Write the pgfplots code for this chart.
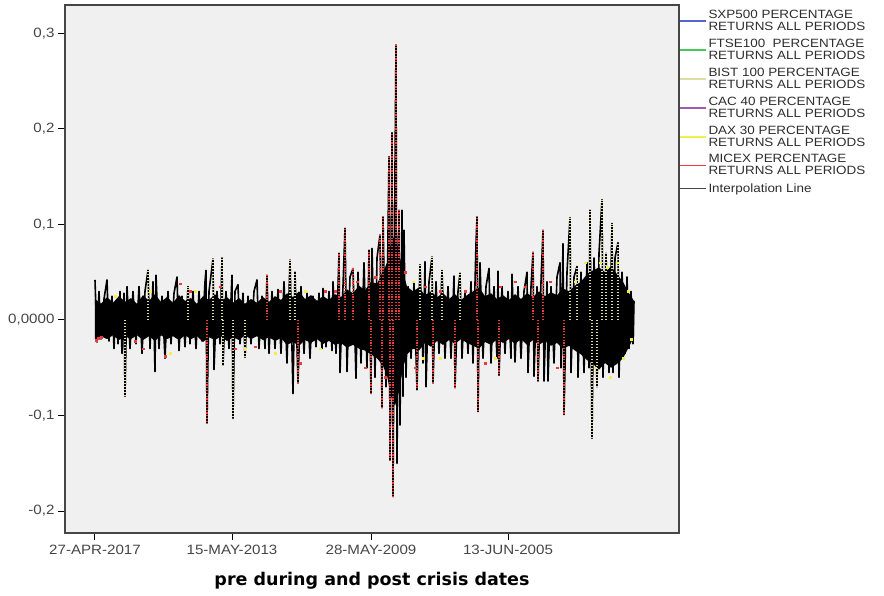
\documentclass[border=0pt]{standalone}
\usepackage{fontspec}
\setmainfont{Liberation Sans}[FakeStretch=1.12]
\newfontfamily\labelfont{DejaVu Sans}
\usepackage{pgfplots}
\usepackage{pgfplotstable}
\pgfplotsset{compat=1.18}
\definecolor{plotbg}{RGB}{240,240,240}
\definecolor{framegray}{RGB}{70,70,70}
\definecolor{tickgray}{RGB}{70,70,70}
\definecolor{legtext}{RGB}{45,45,45}
\definecolor{cSXP}{RGB}{80,100,210}
\definecolor{cFTSE}{RGB}{70,200,90}
\definecolor{cBIST}{RGB}{222,222,160}
\definecolor{cCAC}{RGB}{160,90,180}
\definecolor{cDAX}{RGB}{240,240,70}
\definecolor{cMICEX}{RGB}{235,60,60}
\definecolor{cInt}{RGB}{70,70,70}

\pgfplotstableread{
x y
0 0.042
2 -0.023
4 0.030
6 -0.020
9 0.022
12 0.042
14 -0.022
17 0.025
19 -0.030
21 0.020
23 -0.025
25 0.030
27 -0.035
29 0.028
30 -0.080
32 0.035
35 -0.030
38 0.030
41 -0.025
44 0.035
47 -0.035
50 0.030
53 0.052
55 -0.030
58 0.040
60 -0.054
61 0.047
64 -0.030
67 0.025
70 -0.040
73 0.030
76 -0.025
79 0.028
82 0.045
84 -0.032
87 0.025
90 -0.028
93 0.035
95 -0.025
98 0.030
101 -0.030
104 0.030
107 -0.022
110 0.040
111 0.052
112 -0.108
114 0.030
118 0.064
119 -0.052
122 0.030
125 -0.025
127 0.065
128 -0.047
131 0.030
134 -0.030
137 0.047
138 -0.103
140 0.030
143 0.037
145 -0.025
148 0.028
150 -0.039
153 0.025
156 -0.025
159 0.030
162 0.042
164 -0.030
167 0.025
170 -0.030
172 0.047
174 -0.035
177 0.030
180 -0.030
183 0.032
186 -0.035
189 0.040
192 -0.045
195 0.063
198 -0.077
200 0.050
203 -0.066
206 0.035
209 -0.035
212 0.028
215 -0.040
218 0.025
221 -0.028
224 0.028
227 -0.030
228 0.033
231 -0.028
234 0.030
237 -0.032
238 0.040
241 -0.035
244 0.070
245 -0.055
250 0.096
252 -0.054
255 0.045
258 0.054
261 -0.061
263 0.050
266 -0.045
269 0.060
272 -0.050
274 0.073
276 -0.077
277 0.075
280 -0.060
282 0.065
285 0.089
287 -0.092
288 0.108
291 -0.070
294 0.171
295 -0.147
297 0.196
298 -0.185
300 0.160
301 0.288
302 -0.150
304 0.115
305 -0.110
307 0.115
308 -0.080
309 0.094
311 -0.060
313 0.035
316 -0.040
319 0.040
322 -0.073
325 0.058
328 -0.045
330 0.061
331 -0.070
334 0.040
337 0.066
338 -0.066
341 0.040
344 -0.035
347 0.052
350 -0.040
353 0.035
356 -0.040
359 0.046
360 -0.071
363 0.030
365 0.049
367 -0.040
370 0.030
373 -0.035
376 0.040
378 -0.045
381 0.080
382 0.108
383 -0.096
385 0.060
388 -0.040
391 0.035
394 0.054
396 -0.045
399 0.035
402 -0.040
403 0.051
404 -0.058
407 0.035
410 -0.035
413 0.030
416 -0.040
417 0.048
420 -0.044
423 0.035
426 -0.040
429 0.030
432 0.050
433 -0.055
436 0.035
438 0.071
439 -0.059
442 0.035
443 -0.064
446 0.040
448 0.094
449 -0.064
452 0.040
453 -0.064
456 0.035
459 -0.045
462 0.045
465 0.060
466 -0.050
468 0.080
469 -0.099
472 0.050
475 0.107
476 -0.055
479 0.045
482 0.056
483 -0.060
486 0.050
489 -0.055
492 0.060
494 -0.050
495 0.115
497 -0.124
499 0.065
502 -0.070
504 0.070
507 0.126
508 -0.060
511 0.070
514 -0.055
517 0.101
518 -0.055
520 0.065
523 0.081
524 -0.060
527 0.050
530 -0.035
532 0.045
534 -0.030
536 0.030
538 -0.025
539 0.020
}\blackdata

\pgfplotstableread{
x y
0 0.022
6 0.017
12 0.024
18 0.018
24 0.025
30 0.019
36 0.023
42 0.017
48 0.026
54 0.020
60 0.027
66 0.019
72 0.024
78 0.018
84 0.026
90 0.020
96 0.023
102 0.017
108 0.025
114 0.021
120 0.027
126 0.020
132 0.024
138 0.018
144 0.023
150 0.017
156 0.022
162 0.018
168 0.024
174 0.019
180 0.025
186 0.021
192 0.028
198 0.024
204 0.030
210 0.022
216 0.026
222 0.020
228 0.025
234 0.021
240 0.027
246 0.024
252 0.032
258 0.028
264 0.036
270 0.031
276 0.040
282 0.038
288 0.050
292 0.060
296 0.080
300 0.090
304 0.070
308 0.050
312 0.035
318 0.030
324 0.034
330 0.026
336 0.030
342 0.024
348 0.028
354 0.022
360 0.027
366 0.021
372 0.026
378 0.030
384 0.034
390 0.025
396 0.028
402 0.022
408 0.026
414 0.021
420 0.027
426 0.022
432 0.028
438 0.024
444 0.030
450 0.025
456 0.029
462 0.026
468 0.033
474 0.030
480 0.036
486 0.040
492 0.048
498 0.052
504 0.055
510 0.050
516 0.056
522 0.048
528 0.040
534 0.028
539 0.020
539 -0.018
534 -0.028
528 -0.040
522 -0.046
516 -0.050
510 -0.045
504 -0.052
498 -0.046
492 -0.042
486 -0.036
480 -0.032
474 -0.027
468 -0.030
462 -0.024
456 -0.027
450 -0.022
444 -0.026
438 -0.021
432 -0.026
426 -0.020
420 -0.025
414 -0.020
408 -0.024
402 -0.020
396 -0.026
390 -0.023
384 -0.030
378 -0.027
372 -0.024
366 -0.020
360 -0.025
354 -0.021
348 -0.026
342 -0.022
336 -0.028
330 -0.024
324 -0.032
318 -0.030
312 -0.036
308 -0.050
304 -0.075
300 -0.090
296 -0.080
292 -0.058
288 -0.048
282 -0.040
276 -0.036
270 -0.032
264 -0.030
258 -0.026
252 -0.029
246 -0.024
240 -0.026
234 -0.022
228 -0.025
222 -0.020
216 -0.024
210 -0.021
204 -0.027
198 -0.023
192 -0.026
186 -0.019
180 -0.022
174 -0.018
168 -0.021
162 -0.017
156 -0.020
150 -0.016
144 -0.021
138 -0.018
132 -0.022
126 -0.017
120 -0.021
114 -0.018
108 -0.023
102 -0.017
96 -0.020
90 -0.016
84 -0.021
78 -0.017
72 -0.020
66 -0.016
60 -0.022
54 -0.017
48 -0.021
42 -0.016
36 -0.020
30 -0.017
24 -0.021
18 -0.016
12 -0.020
6 -0.017
0 -0.020
}\coredata

\pgfplotstableread{
x y
112 -0.108
172 0.047
203 -0.066
244 0.070
250 0.096
258 0.054
274 0.073
276 -0.077
285 0.089
287 -0.092
288 0.108
294 0.171
295 -0.147
297 0.196
298 -0.185
301 0.288
304 0.115
322 -0.073
338 -0.066
360 -0.071
382 0.108
383 -0.096
404 -0.058
438 0.071
443 -0.064
448 0.094
469 -0.099
}\reddata

\pgfplotstableread{
x y
30 -0.080
53 0.052
93 0.035
118 0.064
127 0.065
128 -0.047
138 -0.103
150 -0.039
195 0.063
200 0.050
325 0.058
337 0.066
347 0.052
365 0.049
475 0.107
482 0.056
495 0.115
497 -0.124
502 -0.070
507 0.126
511 0.070
517 0.101
523 0.081
}\khakidata

\pgfplotstableread{
x y
1 -0.021
3 -0.019
6 -0.018
40 -0.022
48 -0.030
70 -0.038
85 0.038
95 0.030
125 0.035
140 -0.030
160 -0.028
185 0.030
205 -0.045
230 0.030
240 0.030
262 0.040
270 -0.050
280 0.045
290 -0.060
310 0.050
320 -0.050
330 0.035
345 0.030
370 0.030
390 -0.045
405 0.035
420 0.040
430 0.035
455 0.040
462 -0.050
}\reddots

\pgfplotstableread{
x y
20 0.025
55 0.030
75 -0.035
100 0.030
150 -0.030
180 -0.035
210 0.030
225 -0.030
318 0.040
328 -0.040
345 -0.040
400 -0.040
480 0.040
490 0.060
500 -0.050
505 0.060
512 0.055
515 -0.060
522 0.060
528 -0.040
533 0.030
536 -0.020
}\yellowdots

\begin{document}
\begin{tikzpicture}[x=1pt,y=1pt]
\useasboundingbox (0,0) rectangle (884,596);
\begin{axis}[
  at={(65pt,63pt)}, anchor=south west,
  width=614pt, height=528pt, scale only axis,
  xmin=-30, xmax=584, ymin=-0.2230, ymax=0.3298,
  axis background/.style={fill=plotbg},
  axis line style={draw=framegray, line width=1.3pt},
  xtick pos=bottom, ytick pos=left,
  xtick={0,137,276,413},
  xticklabels={27-APR-2017,15-MAY-2013,28-MAY-2009,13-JUN-2005},
  ytick={-0.2,-0.1,0,0.1,0.2,0.3},
  yticklabels={{-0,2},{-0,1},{0,0000},{0,1},{0,2},{0,3}},
  tick align=outside, major tick length=7pt,
  tick style={draw=black, line width=1pt},
  ticklabel style={font=\fontsize{13.5}{13.5}\selectfont, text=tickgray},
  xticklabel style={yshift=-2pt},
  xlabel={pre during and post crisis dates},
  xlabel style={font=\labelfont\bfseries\fontsize{17.5}{17.5}\selectfont, text=black, yshift=-10pt},
  legend style={at={(1,1)}, anchor=north west, draw=none, fill=none,
    font=\fontsize{12}{12}\selectfont, text=legtext,
    inner xsep=0pt, inner ysep=1.5pt,
    nodes={inner ysep=3.5pt, inner xsep=1.5pt},
    cells={anchor=west, align=left}},
  legend image code/.code={\draw[#1, line width=1.8pt] (0pt,0pt) -- (26pt,0pt);},
  clip=true,
]
\addlegendimage{draw=cSXP}
\addlegendentry{SXP500 PERCENTAGE\\RETURNS ALL PERIODS}
\addlegendimage{draw=cFTSE}
\addlegendentry{FTSE100\ \ PERCENTAGE\\RETURNS ALL PERIODS}
\addlegendimage{draw=cBIST}
\addlegendentry{BIST 100 PERCENTAGE\\RETURNS ALL PERIODS}
\addlegendimage{draw=cCAC}
\addlegendentry{CAC 40 PERCENTAGE\\RETURNS ALL PERIODS}
\addlegendimage{draw=cDAX}
\addlegendentry{DAX 30 PERCENTAGE\\RETURNS ALL PERIODS}
\addlegendimage{draw=cMICEX}
\addlegendentry{MICEX PERCENTAGE\\RETURNS ALL PERIODS}
\addlegendimage{draw=cInt}
\addlegendentry{Interpolation Line}

\addplot[forget plot, fill=black, draw=none] table {\coredata};
\addplot[forget plot, black, line width=1.6pt, line join=round] table {\blackdata};
\addplot[forget plot, ycomb, draw=cMICEX, line width=1.2pt, dash pattern=on 1.2pt off 1.6pt] table {\reddata};
\addplot[forget plot, ycomb, draw=cBIST, line width=1.2pt, dash pattern=on 1.4pt off 1.6pt] table {\khakidata};
\addplot[forget plot, only marks, mark=square*, mark size=0.8pt, color=cMICEX] table {\reddots};
\addplot[forget plot, only marks, mark=square*, mark size=0.8pt, color=cDAX] table {\yellowdots};
\end{axis}
\end{tikzpicture}
\end{document}
